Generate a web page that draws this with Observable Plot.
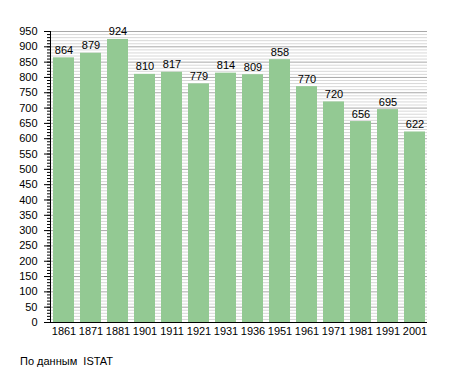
<!DOCTYPE html>
<html>
<head>
<meta charset="utf-8">
<script src="https://cdn.jsdelivr.net/npm/d3@7"></script>
<script src="https://cdn.jsdelivr.net/npm/@observablehq/plot@0.6"></script>
<style>
  body { margin: 0; background: #fff; font-family: "Liberation Sans", Arial, sans-serif; }
  #chart svg { display: block; }
  .caption { font-size: 11px; color: #000; margin: 9px 0 0 20px; }
</style>
</head>
<body>
<div id="chart"></div>
<div class="caption">По данным&nbsp; ISTAT</div>
<script>
const years = ["1861","1871","1881","1901","1911","1921","1931","1936","1951","1961","1971","1981","1991","2001"];
const population = [864, 879, 924, 810, 817, 779, 814, 809, 858, 770, 720, 656, 695, 622];
const majorTicks = d3.range(0, 951, 50);
const minorTicks = d3.range(0, 951, 10);

const data = years.map((y, i) => ({year: y, value: population[i]}));

const chart = Plot.plot({
  width: 455,
  height: 346,
  marginLeft: 50,
  marginRight: 28,
  marginTop: 31,
  marginBottom: 24,
  style: {fontFamily: "Liberation Sans, Arial, sans-serif", fontSize: "11px", color: "#000", background: "#fff"},
  x: {domain: years, paddingInner: 0.23, paddingOuter: 0.04, label: null},
  y: {domain: [0, 950], label: null},
  marks: [
    Plot.ruleY(minorTicks.filter(d => d % 50 !== 0), {stroke: "#d8d8d8", strokeWidth: 1}),
    Plot.ruleY(majorTicks, {stroke: "#a8a8a8", strokeWidth: 1}),
    Plot.barY(data, {x: "year", y: "value", fill: "#93c993"}),
    Plot.text(data, {x: "year", y: "value", text: d => String(d.value), lineAnchor: "bottom", dy: -4, fill: "#000", fontSize: 11}),
    Plot.axisY(minorTicks, {tickSize: 3, text: null, stroke: "#000"}),
    Plot.axisY(majorTicks, {tickSize: 6, tickPadding: 7, stroke: "#000", fontSize: 11}),
    Plot.axisX({tickSize: 0, tickPadding: 5, fontSize: 11}),
    Plot.frame({anchor: "left", stroke: "#000"}),
    Plot.ruleY([0], {stroke: "#000", strokeWidth: 1.2})
  ]
});

document.getElementById("chart").append(chart);
</script>
</body>
</html>
